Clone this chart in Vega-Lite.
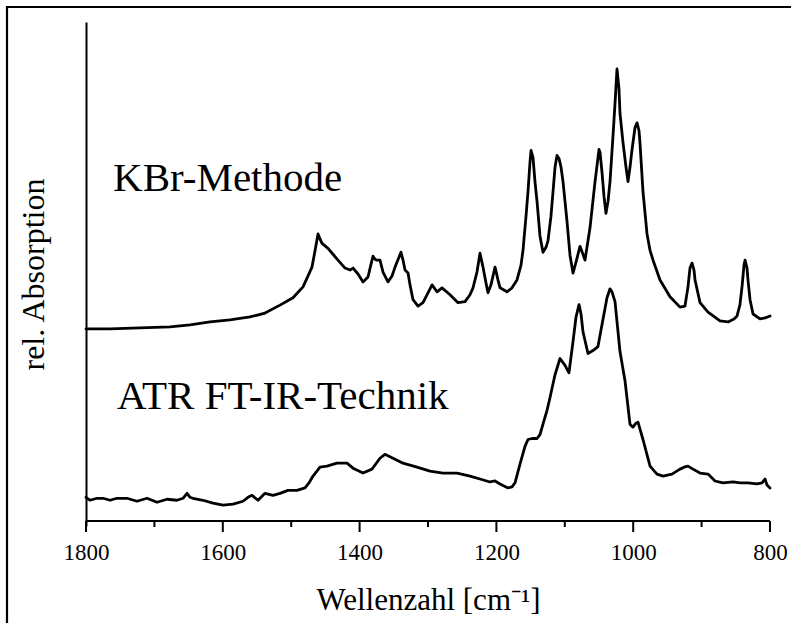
{
  "$schema": "https://vega.github.io/schema/vega-lite/v6.json",
  "width": 800,
  "height": 640,
  "autosize": "none",
  "padding": {"left": 7, "top": 7, "right": 0, "bottom": 0},
  "background": "white",
  "config": {
    "view": {"stroke": "black", "strokeWidth": 2.2},
    "font": "Liberation Serif"
  },
  "data": {"values": [
      {"series": "KBr", "w": 1800, "a": 0.389},
      {"series": "KBr", "w": 1764.9, "a": 0.389},
      {"series": "KBr", "w": 1721.1, "a": 0.391},
      {"series": "KBr", "w": 1677.2, "a": 0.393},
      {"series": "KBr", "w": 1648.0, "a": 0.397},
      {"series": "KBr", "w": 1618.7, "a": 0.403},
      {"series": "KBr", "w": 1589.5, "a": 0.407},
      {"series": "KBr", "w": 1560.2, "a": 0.413},
      {"series": "KBr", "w": 1538.3, "a": 0.421},
      {"series": "KBr", "w": 1516.4, "a": 0.437},
      {"series": "KBr", "w": 1497.4, "a": 0.452},
      {"series": "KBr", "w": 1482.7, "a": 0.474},
      {"series": "KBr", "w": 1469.6, "a": 0.514},
      {"series": "KBr", "w": 1463.7, "a": 0.558},
      {"series": "KBr", "w": 1460.8, "a": 0.581},
      {"series": "KBr", "w": 1457.9, "a": 0.571},
      {"series": "KBr", "w": 1455.0, "a": 0.562},
      {"series": "KBr", "w": 1446.2, "a": 0.552},
      {"series": "KBr", "w": 1438.9, "a": 0.540},
      {"series": "KBr", "w": 1431.6, "a": 0.528},
      {"series": "KBr", "w": 1421.3, "a": 0.512},
      {"series": "KBr", "w": 1414.0, "a": 0.508},
      {"series": "KBr", "w": 1409.6, "a": 0.512},
      {"series": "KBr", "w": 1402.3, "a": 0.500},
      {"series": "KBr", "w": 1395.0, "a": 0.484},
      {"series": "KBr", "w": 1387.7, "a": 0.494},
      {"series": "KBr", "w": 1383.3, "a": 0.520},
      {"series": "KBr", "w": 1380.4, "a": 0.536},
      {"series": "KBr", "w": 1377.5, "a": 0.530},
      {"series": "KBr", "w": 1374.6, "a": 0.528},
      {"series": "KBr", "w": 1370.2, "a": 0.528},
      {"series": "KBr", "w": 1365.8, "a": 0.504},
      {"series": "KBr", "w": 1358.5, "a": 0.484},
      {"series": "KBr", "w": 1352.6, "a": 0.496},
      {"series": "KBr", "w": 1348.2, "a": 0.514},
      {"series": "KBr", "w": 1339.5, "a": 0.544},
      {"series": "KBr", "w": 1336.5, "a": 0.528},
      {"series": "KBr", "w": 1333.6, "a": 0.508},
      {"series": "KBr", "w": 1329.2, "a": 0.502},
      {"series": "KBr", "w": 1326.3, "a": 0.478},
      {"series": "KBr", "w": 1321.9, "a": 0.448},
      {"series": "KBr", "w": 1314.6, "a": 0.435},
      {"series": "KBr", "w": 1307.3, "a": 0.442},
      {"series": "KBr", "w": 1300.0, "a": 0.462},
      {"series": "KBr", "w": 1294.1, "a": 0.478},
      {"series": "KBr", "w": 1286.8, "a": 0.464},
      {"series": "KBr", "w": 1279.5, "a": 0.472},
      {"series": "KBr", "w": 1267.8, "a": 0.458},
      {"series": "KBr", "w": 1256.1, "a": 0.442},
      {"series": "KBr", "w": 1245.9, "a": 0.444},
      {"series": "KBr", "w": 1238.6, "a": 0.458},
      {"series": "KBr", "w": 1234.2, "a": 0.472},
      {"series": "KBr", "w": 1228.4, "a": 0.504},
      {"series": "KBr", "w": 1224.0, "a": 0.542},
      {"series": "KBr", "w": 1219.6, "a": 0.514},
      {"series": "KBr", "w": 1215.2, "a": 0.482},
      {"series": "KBr", "w": 1212.3, "a": 0.462},
      {"series": "KBr", "w": 1207.9, "a": 0.478},
      {"series": "KBr", "w": 1202.0, "a": 0.514},
      {"series": "KBr", "w": 1197.7, "a": 0.488},
      {"series": "KBr", "w": 1194.7, "a": 0.472},
      {"series": "KBr", "w": 1184.5, "a": 0.464},
      {"series": "KBr", "w": 1177.2, "a": 0.472},
      {"series": "KBr", "w": 1169.9, "a": 0.488},
      {"series": "KBr", "w": 1164.0, "a": 0.518},
      {"series": "KBr", "w": 1161.1, "a": 0.548},
      {"series": "KBr", "w": 1156.7, "a": 0.617},
      {"series": "KBr", "w": 1153.8, "a": 0.667},
      {"series": "KBr", "w": 1150.9, "a": 0.726},
      {"series": "KBr", "w": 1149.4, "a": 0.750},
      {"series": "KBr", "w": 1146.5, "a": 0.736},
      {"series": "KBr", "w": 1143.6, "a": 0.687},
      {"series": "KBr", "w": 1140.6, "a": 0.647},
      {"series": "KBr", "w": 1136.3, "a": 0.577},
      {"series": "KBr", "w": 1131.9, "a": 0.544},
      {"series": "KBr", "w": 1127.5, "a": 0.554},
      {"series": "KBr", "w": 1124.6, "a": 0.567},
      {"series": "KBr", "w": 1120.2, "a": 0.617},
      {"series": "KBr", "w": 1117.2, "a": 0.667},
      {"series": "KBr", "w": 1114.3, "a": 0.716},
      {"series": "KBr", "w": 1111.4, "a": 0.740},
      {"series": "KBr", "w": 1108.5, "a": 0.734},
      {"series": "KBr", "w": 1105.5, "a": 0.716},
      {"series": "KBr", "w": 1102.6, "a": 0.687},
      {"series": "KBr", "w": 1099.7, "a": 0.647},
      {"series": "KBr", "w": 1096.8, "a": 0.607},
      {"series": "KBr", "w": 1092.4, "a": 0.538},
      {"series": "KBr", "w": 1088.0, "a": 0.502},
      {"series": "KBr", "w": 1083.6, "a": 0.524},
      {"series": "KBr", "w": 1077.8, "a": 0.556},
      {"series": "KBr", "w": 1073.4, "a": 0.540},
      {"series": "KBr", "w": 1070.5, "a": 0.528},
      {"series": "KBr", "w": 1063.2, "a": 0.593},
      {"series": "KBr", "w": 1055.8, "a": 0.687},
      {"series": "KBr", "w": 1050.0, "a": 0.752},
      {"series": "KBr", "w": 1048.5, "a": 0.746},
      {"series": "KBr", "w": 1045.6, "a": 0.706},
      {"series": "KBr", "w": 1042.7, "a": 0.657},
      {"series": "KBr", "w": 1039.8, "a": 0.623},
      {"series": "KBr", "w": 1036.8, "a": 0.647},
      {"series": "KBr", "w": 1033.9, "a": 0.687},
      {"series": "KBr", "w": 1029.5, "a": 0.780},
      {"series": "KBr", "w": 1026.6, "a": 0.845},
      {"series": "KBr", "w": 1023.7, "a": 0.915},
      {"series": "KBr", "w": 1020.8, "a": 0.875},
      {"series": "KBr", "w": 1019.3, "a": 0.825},
      {"series": "KBr", "w": 1014.9, "a": 0.766},
      {"series": "KBr", "w": 1010.5, "a": 0.716},
      {"series": "KBr", "w": 1007.6, "a": 0.687},
      {"series": "KBr", "w": 1004.7, "a": 0.716},
      {"series": "KBr", "w": 1001.7, "a": 0.752},
      {"series": "KBr", "w": 997.4, "a": 0.796},
      {"series": "KBr", "w": 994.4, "a": 0.806},
      {"series": "KBr", "w": 991.5, "a": 0.790},
      {"series": "KBr", "w": 990.1, "a": 0.766},
      {"series": "KBr", "w": 985.7, "a": 0.667},
      {"series": "KBr", "w": 979.8, "a": 0.581},
      {"series": "KBr", "w": 975.4, "a": 0.548},
      {"series": "KBr", "w": 971.0, "a": 0.528},
      {"series": "KBr", "w": 960.8, "a": 0.488},
      {"series": "KBr", "w": 946.2, "a": 0.454},
      {"series": "KBr", "w": 931.6, "a": 0.433},
      {"series": "KBr", "w": 924.3, "a": 0.435},
      {"series": "KBr", "w": 919.9, "a": 0.474},
      {"series": "KBr", "w": 917.0, "a": 0.512},
      {"series": "KBr", "w": 914.0, "a": 0.522},
      {"series": "KBr", "w": 911.1, "a": 0.508},
      {"series": "KBr", "w": 909.6, "a": 0.488},
      {"series": "KBr", "w": 902.3, "a": 0.442},
      {"series": "KBr", "w": 890.6, "a": 0.423},
      {"series": "KBr", "w": 873.1, "a": 0.405},
      {"series": "KBr", "w": 861.4, "a": 0.403},
      {"series": "KBr", "w": 852.6, "a": 0.409},
      {"series": "KBr", "w": 848.2, "a": 0.415},
      {"series": "KBr", "w": 843.9, "a": 0.438},
      {"series": "KBr", "w": 840.9, "a": 0.474},
      {"series": "KBr", "w": 838.0, "a": 0.518},
      {"series": "KBr", "w": 836.5, "a": 0.528},
      {"series": "KBr", "w": 833.6, "a": 0.512},
      {"series": "KBr", "w": 832.2, "a": 0.488},
      {"series": "KBr", "w": 829.2, "a": 0.448},
      {"series": "KBr", "w": 824.8, "a": 0.419},
      {"series": "KBr", "w": 814.6, "a": 0.409},
      {"series": "KBr", "w": 807.3, "a": 0.411},
      {"series": "KBr", "w": 800, "a": 0.415},
      {"series": "ATR", "w": 1800, "a": 0.048},
      {"series": "ATR", "w": 1794.2, "a": 0.042},
      {"series": "ATR", "w": 1783.9, "a": 0.046},
      {"series": "ATR", "w": 1775.1, "a": 0.046},
      {"series": "ATR", "w": 1764.9, "a": 0.042},
      {"series": "ATR", "w": 1754.7, "a": 0.046},
      {"series": "ATR", "w": 1740.1, "a": 0.046},
      {"series": "ATR", "w": 1725.4, "a": 0.040},
      {"series": "ATR", "w": 1710.8, "a": 0.046},
      {"series": "ATR", "w": 1696.2, "a": 0.038},
      {"series": "ATR", "w": 1681.6, "a": 0.044},
      {"series": "ATR", "w": 1667.0, "a": 0.042},
      {"series": "ATR", "w": 1658.2, "a": 0.046},
      {"series": "ATR", "w": 1652.3, "a": 0.056},
      {"series": "ATR", "w": 1647.9, "a": 0.048},
      {"series": "ATR", "w": 1643.6, "a": 0.046},
      {"series": "ATR", "w": 1628.9, "a": 0.042},
      {"series": "ATR", "w": 1614.3, "a": 0.036},
      {"series": "ATR", "w": 1599.7, "a": 0.032},
      {"series": "ATR", "w": 1585.1, "a": 0.034},
      {"series": "ATR", "w": 1570.5, "a": 0.040},
      {"series": "ATR", "w": 1563.2, "a": 0.048},
      {"series": "ATR", "w": 1557.3, "a": 0.052},
      {"series": "ATR", "w": 1548.5, "a": 0.042},
      {"series": "ATR", "w": 1538.3, "a": 0.056},
      {"series": "ATR", "w": 1526.6, "a": 0.052},
      {"series": "ATR", "w": 1516.4, "a": 0.056},
      {"series": "ATR", "w": 1504.7, "a": 0.062},
      {"series": "ATR", "w": 1491.5, "a": 0.062},
      {"series": "ATR", "w": 1479.8, "a": 0.067},
      {"series": "ATR", "w": 1474.0, "a": 0.077},
      {"series": "ATR", "w": 1468.1, "a": 0.091},
      {"series": "ATR", "w": 1457.9, "a": 0.109},
      {"series": "ATR", "w": 1447.7, "a": 0.111},
      {"series": "ATR", "w": 1433.0, "a": 0.117},
      {"series": "ATR", "w": 1418.4, "a": 0.117},
      {"series": "ATR", "w": 1409.6, "a": 0.107},
      {"series": "ATR", "w": 1395.0, "a": 0.097},
      {"series": "ATR", "w": 1381.9, "a": 0.105},
      {"series": "ATR", "w": 1370.2, "a": 0.127},
      {"series": "ATR", "w": 1362.9, "a": 0.135},
      {"series": "ATR", "w": 1351.2, "a": 0.127},
      {"series": "ATR", "w": 1336.5, "a": 0.117},
      {"series": "ATR", "w": 1316.1, "a": 0.109},
      {"series": "ATR", "w": 1297.1, "a": 0.101},
      {"series": "ATR", "w": 1278.1, "a": 0.097},
      {"series": "ATR", "w": 1257.6, "a": 0.097},
      {"series": "ATR", "w": 1238.6, "a": 0.091},
      {"series": "ATR", "w": 1224.0, "a": 0.085},
      {"series": "ATR", "w": 1209.4, "a": 0.079},
      {"series": "ATR", "w": 1202.0, "a": 0.081},
      {"series": "ATR", "w": 1194.7, "a": 0.075},
      {"series": "ATR", "w": 1183.0, "a": 0.067},
      {"series": "ATR", "w": 1177.2, "a": 0.069},
      {"series": "ATR", "w": 1172.8, "a": 0.077},
      {"series": "ATR", "w": 1165.5, "a": 0.115},
      {"series": "ATR", "w": 1158.2, "a": 0.151},
      {"series": "ATR", "w": 1153.8, "a": 0.165},
      {"series": "ATR", "w": 1147.9, "a": 0.167},
      {"series": "ATR", "w": 1140.6, "a": 0.167},
      {"series": "ATR", "w": 1136.3, "a": 0.175},
      {"series": "ATR", "w": 1131.9, "a": 0.196},
      {"series": "ATR", "w": 1126.0, "a": 0.224},
      {"series": "ATR", "w": 1121.6, "a": 0.250},
      {"series": "ATR", "w": 1114.3, "a": 0.296},
      {"series": "ATR", "w": 1107.0, "a": 0.329},
      {"series": "ATR", "w": 1099.7, "a": 0.315},
      {"series": "ATR", "w": 1093.9, "a": 0.300},
      {"series": "ATR", "w": 1088.0, "a": 0.363},
      {"series": "ATR", "w": 1083.6, "a": 0.413},
      {"series": "ATR", "w": 1079.2, "a": 0.438},
      {"series": "ATR", "w": 1076.3, "a": 0.419},
      {"series": "ATR", "w": 1073.4, "a": 0.383},
      {"series": "ATR", "w": 1066.1, "a": 0.339},
      {"series": "ATR", "w": 1058.8, "a": 0.345},
      {"series": "ATR", "w": 1051.5, "a": 0.353},
      {"series": "ATR", "w": 1044.1, "a": 0.409},
      {"series": "ATR", "w": 1038.3, "a": 0.452},
      {"series": "ATR", "w": 1033.9, "a": 0.470},
      {"series": "ATR", "w": 1031.0, "a": 0.464},
      {"series": "ATR", "w": 1026.6, "a": 0.444},
      {"series": "ATR", "w": 1019.3, "a": 0.343},
      {"series": "ATR", "w": 1012.0, "a": 0.284},
      {"series": "ATR", "w": 1004.7, "a": 0.196},
      {"series": "ATR", "w": 1000.3, "a": 0.190},
      {"series": "ATR", "w": 995.9, "a": 0.198},
      {"series": "ATR", "w": 993.0, "a": 0.200},
      {"series": "ATR", "w": 985.7, "a": 0.165},
      {"series": "ATR", "w": 975.4, "a": 0.111},
      {"series": "ATR", "w": 965.2, "a": 0.095},
      {"series": "ATR", "w": 956.4, "a": 0.091},
      {"series": "ATR", "w": 943.3, "a": 0.095},
      {"series": "ATR", "w": 931.6, "a": 0.105},
      {"series": "ATR", "w": 925.7, "a": 0.109},
      {"series": "ATR", "w": 919.9, "a": 0.111},
      {"series": "ATR", "w": 912.6, "a": 0.105},
      {"series": "ATR", "w": 902.3, "a": 0.097},
      {"series": "ATR", "w": 890.6, "a": 0.095},
      {"series": "ATR", "w": 880.4, "a": 0.081},
      {"series": "ATR", "w": 868.7, "a": 0.077},
      {"series": "ATR", "w": 854.1, "a": 0.079},
      {"series": "ATR", "w": 843.9, "a": 0.077},
      {"series": "ATR", "w": 832.2, "a": 0.077},
      {"series": "ATR", "w": 819.0, "a": 0.075},
      {"series": "ATR", "w": 811.7, "a": 0.077},
      {"series": "ATR", "w": 807.3, "a": 0.085},
      {"series": "ATR", "w": 804.4, "a": 0.073},
      {"series": "ATR", "w": 800, "a": 0.067},
      {"series": "label", "label": "KBr-Methode", "w": 1760.5, "a": 0.669},
      {"series": "label", "label": "ATR FT-IR-Technik", "w": 1754.7, "a": 0.226},
      {"series": "axis", "w": 1800, "w2": 800, "a": 0},
      {"series": "major", "w": 1800, "a": 0},
      {"series": "major", "w": 1600, "a": 0},
      {"series": "major", "w": 1400, "a": 0},
      {"series": "major", "w": 1200, "a": 0},
      {"series": "major", "w": 1000, "a": 0},
      {"series": "major", "w": 800, "a": 0},
      {"series": "minor", "w": 1700, "a": 0},
      {"series": "minor", "w": 1500, "a": 0},
      {"series": "minor", "w": 1300, "a": 0},
      {"series": "minor", "w": 1100, "a": 0},
      {"series": "minor", "w": 900, "a": 0}
  ]},
  "encoding": {
    "x": {
      "field": "w", "type": "quantitative",
      "scale": {"domain": [1800, 800], "range": [79, 763], "nice": false, "zero": false},
      "axis": {
        "values": [1800, 1600, 1400, 1200, 1000, 800],
        "format": "d",
        "offset": -121,
        "grid": false,
        "domain": false,
        "ticks": true,
        "tickSize": 11,
        "tickOpacity": 0,
        "labelFont": "Liberation Serif", "labelFontSize": 23, "labelColor": "black",
        "labelPadding": 4, "labelFlush": false, "labelOverlap": false,
        "title": "Wellenzahl [cm⁻¹]",
        "titleFont": "Liberation Serif", "titleFontSize": 31, "titleFontWeight": "normal",
        "titleColor": "black", "titlePadding": 21
      }
    },
    "y": {
      "field": "a", "type": "quantitative",
      "scale": {"domain": [0, 1], "range": [519, 15], "nice": false, "zero": false},
      "axis": {
        "orient": "left",
        "offset": -79,
        "grid": false,
        "domain": true,
        "ticks": false, "labels": false,
        "domainColor": "black", "domainWidth": 2,
        "title": "rel. Absorption",
        "titleFont": "Liberation Serif", "titleFontSize": 32, "titleFontWeight": "normal",
        "titleColor": "black", "titlePadding": 36
      }
    }
  },
  "layer": [
    {
      "transform": [{"filter": "datum.series === 'KBr' || datum.series === 'ATR'"}],
      "mark": {"type": "line", "color": "black", "strokeWidth": 2.8, "strokeJoin": "round", "strokeCap": "round"},
      "encoding": {
        "detail": {"field": "series", "type": "nominal"}
      }
    },
    {
      "transform": [{"filter": "datum.series === 'label'"}],
      "mark": {"type": "text", "align": "left", "baseline": "alphabetic", "fontSize": 41, "font": "Liberation Serif", "color": "black"},
      "encoding": {
        "text": {"field": "label", "type": "nominal"}
      }
    },
    {
      "transform": [{"filter": "datum.series === 'axis'"}],
      "mark": {"type": "bar", "orient": "horizontal", "color": "black", "height": 2},
      "encoding": {
        "x2": {"field": "w2"}
      }
    },
    {
      "transform": [{"filter": "datum.series === 'major'"}],
      "mark": {"type": "tick", "orient": "vertical", "color": "black", "thickness": 2, "yOffset": 5.5, "opacity": 1},
      "encoding": {
        "size": {"value": 11}
      }
    },
    {
      "transform": [{"filter": "datum.series === 'minor'"}],
      "mark": {"type": "tick", "orient": "vertical", "color": "black", "thickness": 2, "yOffset": 3, "opacity": 1},
      "encoding": {
        "size": {"value": 6}
      }
    }
  ]
}
